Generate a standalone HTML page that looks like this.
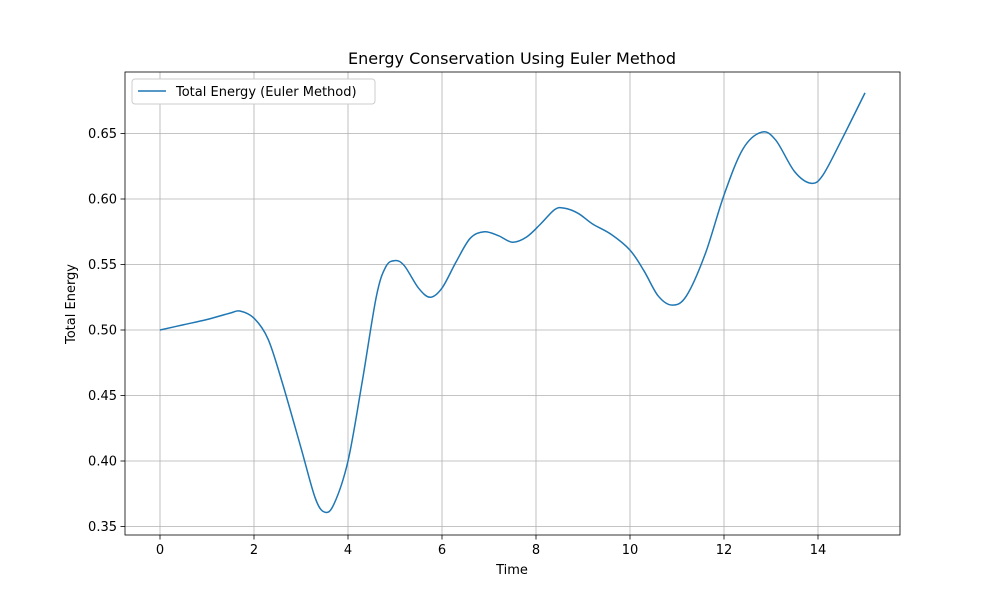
<!DOCTYPE html>
<html><head><meta charset="utf-8"><style>
body{margin:0;background:#fff;font-family:"Liberation Sans","DejaVu Sans",sans-serif}
svg text{font-family:"DejaVu Sans","Liberation Sans",sans-serif}
</style></head><body>
<svg id="chart" width="1000" height="600">
<rect width="1000" height="600" fill="#fff"/>
<g id="grid"></g>
<g id="ticks"></g>
<path id="line" fill="none" stroke="#1f77b4" stroke-width="1.5"/>
<rect x="125" y="72" width="775" height="463" fill="none" stroke="#000" stroke-width="0.8"/>
<text x="512" y="64" text-anchor="middle" font-size="16">Energy Conservation Using Euler Method</text>
<text x="512" y="574" text-anchor="middle" font-size="13">Time</text>
<text transform="translate(75,304) rotate(-90)" text-anchor="middle" font-size="13">Total Energy</text>
<g>
<rect x="132" y="79" width="243" height="25" rx="3" fill="#fff" stroke="#ccc"/>
<line x1="138" y1="91" x2="166" y2="91" stroke="#1f77b4" stroke-width="1.5"/>
<text x="176" y="96" font-size="13">Total Energy (Euler Method)</text>
</g>
</svg>
<script>
const times=[0,0.5,1,1.5,1.7,2,2.3,2.6,3,3.3,3.5,3.7,4,4.3,4.6,4.8,5,5.2,5.5,5.75,6,6.3,6.6,6.9,7.2,7.5,7.8,8.1,8.4,8.6,8.9,9.2,9.6,10,10.3,10.6,10.9,11.2,11.6,12,12.4,12.8,13.1,13.5,13.85,14.1,14.5,15];
const energy=[0.500,0.504,0.508,0.513,0.5145,0.509,0.493,0.46,0.41,0.372,0.361,0.367,0.40,0.46,0.525,0.548,0.553,0.549,0.532,0.525,0.532,0.552,0.570,0.575,0.572,0.567,0.571,0.581,0.592,0.593,0.589,0.581,0.573,0.561,0.545,0.526,0.519,0.526,0.558,0.603,0.638,0.651,0.645,0.621,0.612,0.618,0.645,0.681];
const xTicks=[0,2,4,6,8,10,12,14];
const yTicks=[0.35,0.40,0.45,0.50,0.55,0.60,0.65];
const X=t=>160+t*47, Y=v=>330-(v-0.5)*1310;
const ns="http://www.w3.org/2000/svg";
const grid=document.getElementById('grid'), tk=document.getElementById('ticks');
function mk(p,tag,a){const e=document.createElementNS(ns,tag);for(const k in a)e.setAttribute(k,a[k]);p.appendChild(e);return e;}
xTicks.forEach(t=>{
 const g=mk(grid,'line',{x1:X(t),x2:X(t),y1:72,y2:535,stroke:'#b0b0b0','stroke-width':0.8});
 
 
 mk(tk,'line',{x1:X(t),x2:X(t),y1:535,y2:539.5,stroke:'#000','stroke-width':0.8});
 const l=mk(tk,'text',{x:X(t),y:554,'text-anchor':'middle','font-size':13});l.textContent=t;
 
 
});
yTicks.forEach(v=>{
 const g=mk(grid,'line',{x1:125,x2:900,y1:Y(v),y2:Y(v),stroke:'#b0b0b0','stroke-width':0.8});
 
 
 mk(tk,'line',{x1:120.5,x2:125,y1:Y(v),y2:Y(v),stroke:'#000','stroke-width':0.8});
 const l=mk(tk,'text',{x:117,y:Y(v)+4.5,'text-anchor':'end','font-size':13});l.textContent=v.toFixed(2);
 
 
});
const P=times.map((t,i)=>[X(t),Y(energy[i])]);
let d='M'+P[0][0]+','+P[0][1];
for(let i=0;i<P.length-1;i++){
 const p0=P[Math.max(0,i-1)],p1=P[i],p2=P[i+1],p3=P[Math.min(P.length-1,i+2)];
 const c1=[p1[0]+(p2[0]-p0[0])/6,p1[1]+(p2[1]-p0[1])/6];
 const c2=[p2[0]-(p3[0]-p1[0])/6,p2[1]-(p3[1]-p1[1])/6];
 d+=` C${c1[0]},${c1[1]} ${c2[0]},${c2[1]} ${p2[0]},${p2[1]}`;
}
document.getElementById('line').setAttribute('d',d);
</script>
</body></html>
